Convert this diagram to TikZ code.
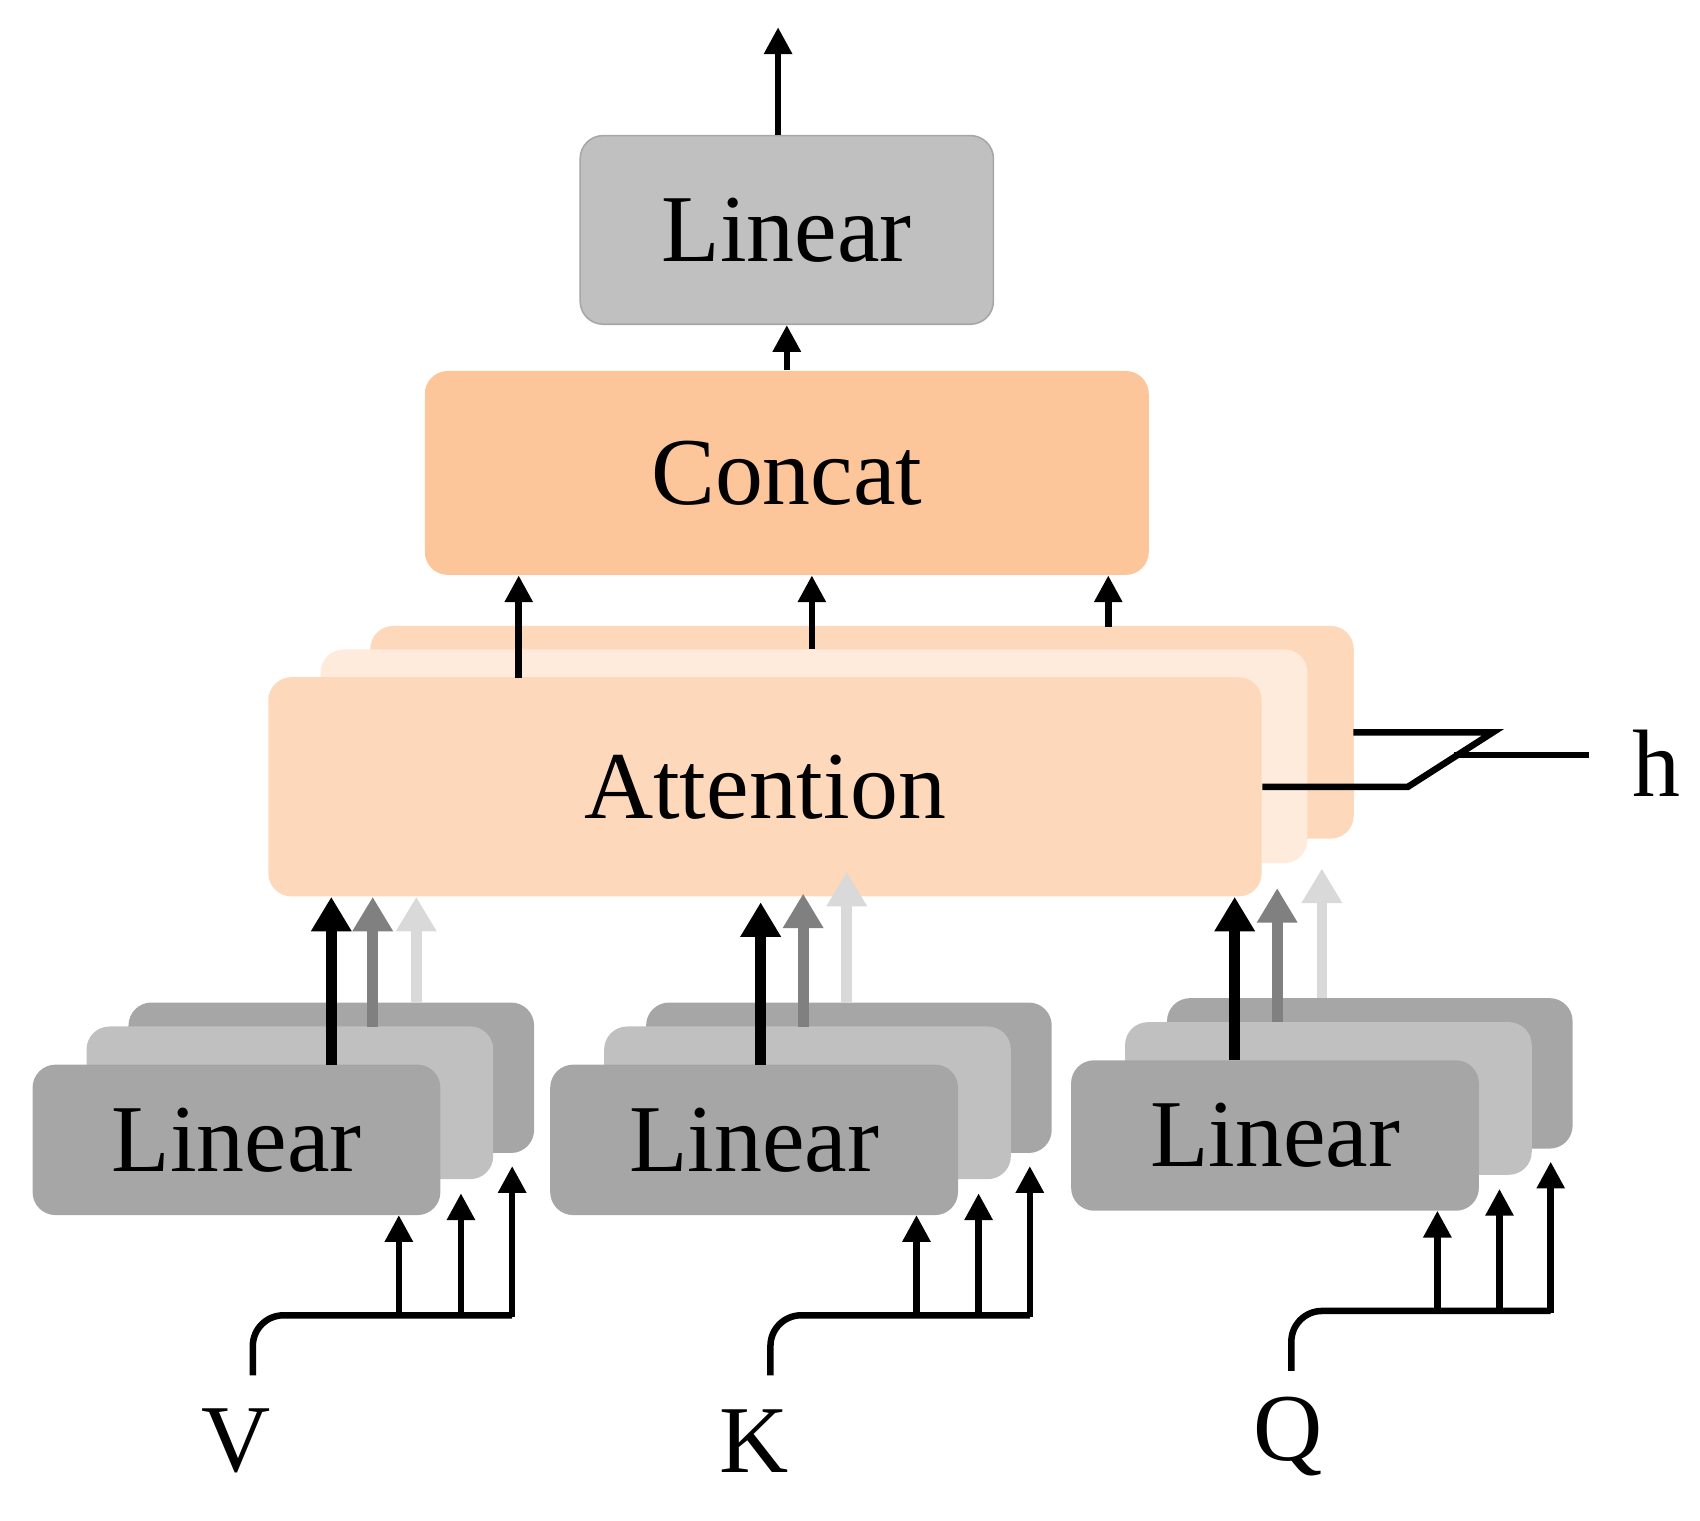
\documentclass[tikz,border=0pt]{standalone}
\usepackage{fontspec}
\setmainfont{Liberation Serif}
\usetikzlibrary{arrows.meta}
\definecolor{lgray}{HTML}{C0C0C0}
\definecolor{dgray}{HTML}{A6A6A6}
\definecolor{concat}{HTML}{FDC59A}
\definecolor{attA}{HTML}{FDD8BA}
\definecolor{attB}{HTML}{FEEBDC}
\begin{document}
\begin{tikzpicture}[x=0.01cm,y=-0.01cm,
  box/.style={rounded corners=6pt,inner sep=0pt,font=\fontsize{25}{30}\selectfont},
  arr/.style={line width=1.7pt,-{Triangle[length=7pt,width=7pt]}},
  big/.style={line width=2.8pt,-{Triangle[length=9pt,width=10pt]}},
  lbl/.style={font=\fontsize{25}{30}\selectfont}]
\useasboundingbox (0,0) rectangle (1560,1395);
\newcommand\bx[6]{\node[box,fill=#6,draw=#6!85!black!60,line width=0.4pt,minimum width={(#3-#2)*0.01cm},minimum height={(#5-#4)*0.01cm}] (#1) at ({(#2+#3)/2},{(#4+#5)/2}) {};}
% top linear
\node[box,fill=lgray,draw=gray!70,minimum width=3.79cm,minimum height=1.73cm] (top) at (722,211) {Linear};
\coordinate (out) at (714,25);
\draw[arr] (top.north -| out) -- (out);
% concat
\node[box,fill=concat,minimum width=6.64cm,minimum height=1.87cm] (cc) at (722,434) {Concat};
\draw[arr] (cc.north -| top) -- (top.south);
% attention stack
\node[box,fill=attA,minimum width=9.02cm,minimum height=1.95cm] (a3) at (791,672) {};
\node[box,fill=attB,minimum width=9.05cm,minimum height=1.96cm] (a2) at (747,694) {};
\node[box,fill=attA,minimum width=9.11cm,minimum height=2.01cm] (a1) at (702,722) {Attention};
\draw[arr] (476,622) -- (476,528);
\draw[arr] (745,596) -- (745,528);
\draw[arr] (1017,575) -- (1017,528);
% h
\draw[line width=1.7pt] (a1.east) -- (1292,722) -- (1370,672) -- (1242,672);
\draw[line width=1.7pt] (1334,693) -- (1458,693);
\node[lbl] (h) at (1520,700) {h};
% linear groups
\foreach \n/\dx/\dy/\lab/\in in {v/0/0/V/232, k/475/0/K/707, q/953/-4/Q/1197}{
  \begin{scope}[shift={(\dx,\dy)}]
  \node[box,fill=dgray,minimum width=3.72cm,minimum height=1.38cm] (\n3) at (304,989) {};
  \node[box,fill=lgray,minimum width=3.73cm,minimum height=1.40cm] (\n2) at (266,1012) {};
  \node[box,fill=dgray,minimum width=3.74cm,minimum height=1.38cm] (\n1) at (217,1046) {Linear};
  \coordinate (\n s) at (232,1262);
  \draw[line width=1.7pt,rounded corners=8pt] (\n s) -- (232,1207) -- (470,1207);
  \draw[arr] (366,1209) -- (366,1115);
  \draw[arr] (423,1209) -- (423,1095);
  \draw[arr] (470,1209) -- (470,1070);
  \node[lbl] (\n l) at ({(\in)-\dx-15},1322) {\lab};
  \end{scope}}
% arrows to attention
\draw[big,draw=black!15,fill=black!15] (382,920) -- (382,823);
\draw[big,draw=black!50,fill=black!50] (342,942) -- (342,823);
\draw[big] (304,977) -- (304,823);
\draw[big,draw=black!15] (777,920) -- (777,800);
\draw[big,draw=black!50] (737,942) -- (737,820);
\draw[big] (698,977) -- (698,828);
\draw[big,draw=black!15] (1213,916) -- (1213,797);
\draw[big,draw=black!50] (1172,938) -- (1172,815);
\draw[big] (1133,973) -- (1133,823);
\end{tikzpicture}
\end{document}
